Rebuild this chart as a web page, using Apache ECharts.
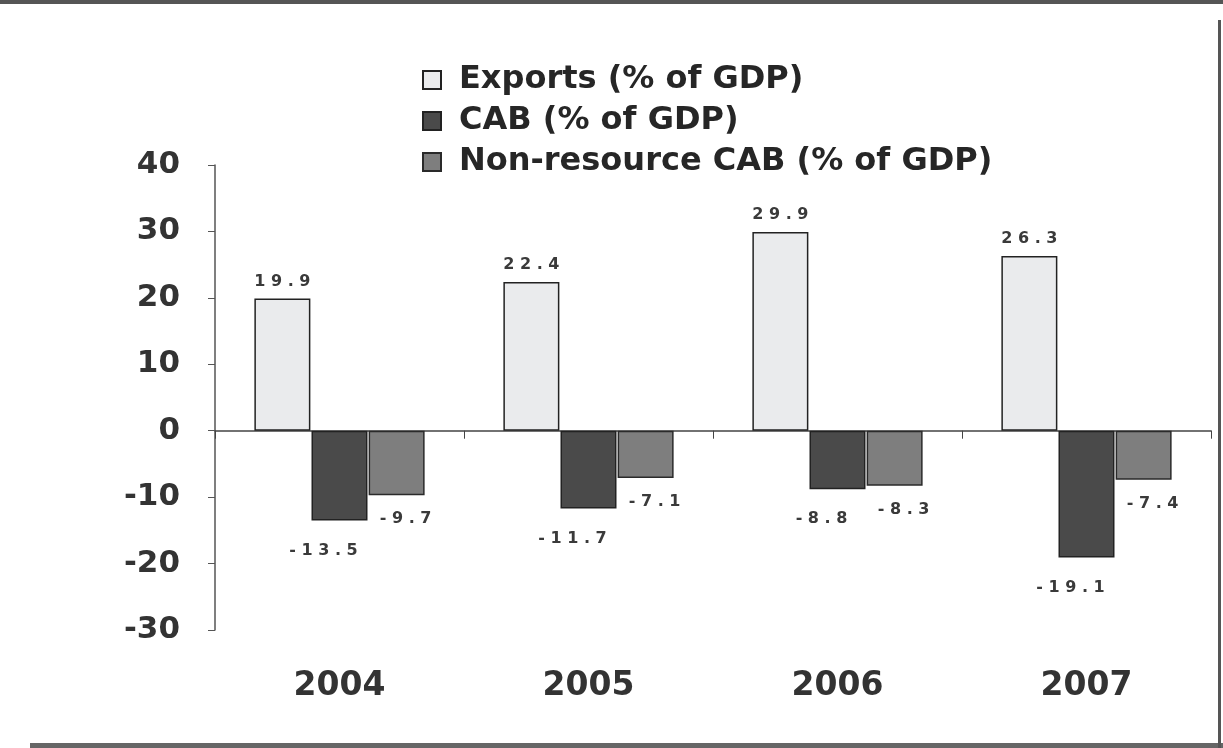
<!DOCTYPE html>
<html>
<head>
<meta charset="utf-8">
<script src="https://cdn.jsdelivr.net/npm/echarts@6/dist/echarts.min.js"></script>
<style>
  html, body { margin: 0; padding: 0; background: #fff; }
  #main { width: 1223px; height: 748px; }
</style>
</head>
<body>
<div id="main"></div>
<script>
const years = ['2004', '2005', '2006', '2007'];
const exportsData = [19.9, 22.4, 29.9, 26.3];
const cabData = [-13.5, -11.7, -8.8, -19.1];
const nonResData = [-9.7, -7.1, -8.3, -7.4];

// spaced-out digits like the scanned labels
const spaced = p => String(p.value).split('').join(' ');

const labelStyle = {
  show: true,
  fontFamily: 'DejaVu Sans',
  fontSize: 16,
  fontWeight: 'bold',
  color: '#3a3a3a',
  formatter: spaced
};

const chart = echarts.init(document.getElementById('main'));
chart.setOption({
  backgroundColor: '#fff',
  animation: false,
  textStyle: { fontFamily: 'DejaVu Sans' },
  graphic: [
    { type: 'rect', shape: { x: 0, y: 0, width: 1223, height: 4 }, style: { fill: '#555' } },
    { type: 'rect', shape: { x: 30, y: 743, width: 1193, height: 5 }, style: { fill: '#666' } },
    { type: 'rect', shape: { x: 1218, y: 20, width: 3, height: 728 }, style: { fill: '#555' } }
  ],
  legend: {
    orient: 'vertical',
    left: 417,
    top: 59,
    icon: 'rect',
    itemWidth: 18,
    itemHeight: 18,
    itemGap: 9,
    textStyle: {
      fontSize: 32, color: '#262626', fontWeight: 'bold',
      lineHeight: 32, padding: [0, 0, 0, 13]
    },
    data: ['Exports (% of GDP)', 'CAB (% of GDP)', 'Non-resource CAB (% of GDP)']
  },
  grid: { left: 215, right: 12, top: 165, bottom: 118 },
  xAxis: [{
    type: 'category',
    data: years,
    axisLine: { onZero: true, lineStyle: { color: '#444', width: 1.5 } },
    axisTick: { show: true, length: 8, lineStyle: { color: '#444' } },
    axisLabel: { show: false }
  }, {
    type: 'category',
    data: years,
    position: 'bottom',
    axisLine: { show: false, onZero: false },
    axisTick: { show: false },
    axisLabel: { fontSize: 33, fontWeight: 'bold', color: '#333', margin: 40 }
  }],
  yAxis: {
    type: 'value',
    min: -30,
    max: 40,
    interval: 10,
    axisLine: { show: true, lineStyle: { color: '#555', width: 1.5 } },
    axisTick: { show: true, length: 7, lineStyle: { color: '#555' } },
    splitLine: { show: false },
    axisLabel: { fontSize: 31, fontWeight: 'bold', color: '#333', margin: 35 }
  },
  series: [{
    name: 'Exports (% of GDP)',
    type: 'bar',
    data: exportsData,
    barWidth: 56,
    barGap: '2%',
    itemStyle: { color: '#eaebed', borderColor: '#222', borderWidth: 1.5 },
    label: Object.assign({}, labelStyle, { position: 'top', distance: 9 })
  }, {
    name: 'CAB (% of GDP)',
    type: 'bar',
    data: cabData,
    barWidth: 56,
    barGap: '2%',
    itemStyle: { color: '#4a4a4a', borderColor: '#222', borderWidth: 1.5 },
    label: Object.assign({}, labelStyle, { position: 'bottom', distance: 22, offset: [-16, 0] })
  }, {
    name: 'Non-resource CAB (% of GDP)',
    type: 'bar',
    data: nonResData,
    barWidth: 56,
    barGap: '2%',
    itemStyle: { color: '#7e7e7e', borderColor: '#2a2a2a', borderWidth: 1.5 },
    label: Object.assign({}, labelStyle, { position: 'bottom', distance: 16, offset: [9, 0] })
  }]
});
</script>
</body>
</html>
